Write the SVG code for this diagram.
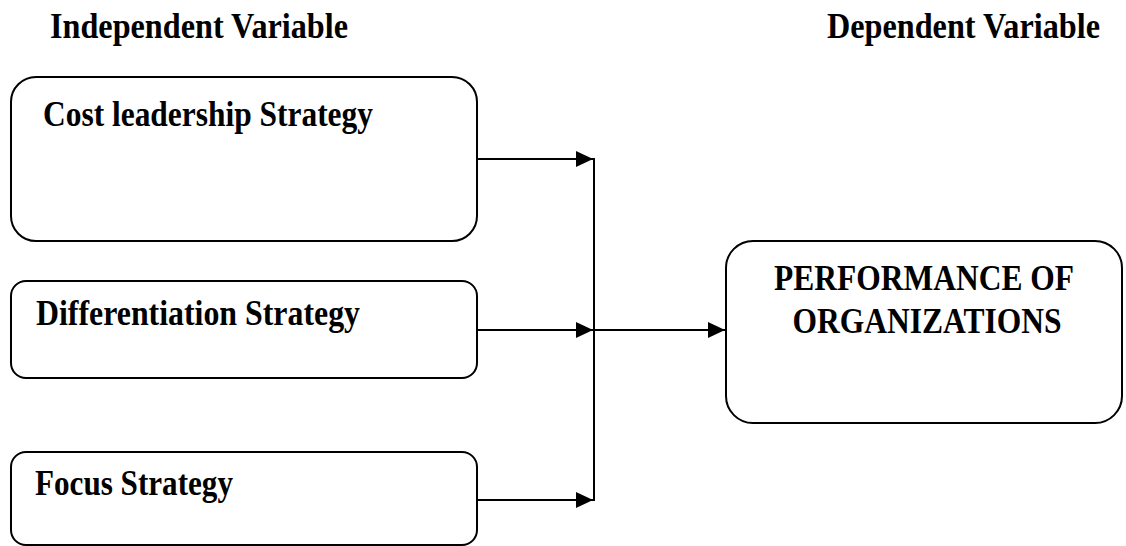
<svg xmlns="http://www.w3.org/2000/svg" width="1126" height="546" viewBox="0 0 1126 546">
<style>
.box{fill:#fff;stroke:#000;stroke-width:2}
.t{font-family:"Liberation Serif","Times New Roman",serif;font-weight:bold;font-size:35px;fill:#000}
.c{stroke:#000;stroke-width:2;fill:none}
</style>
<defs>
<marker id="ah" markerWidth="18" markerHeight="18" refX="17" refY="8" orient="auto" markerUnits="userSpaceOnUse">
<path d="M0,0 L17,8 L0,16 Z" fill="#000"/>
</marker>
</defs>
<rect width="1126" height="546" fill="#fff"/>
<g id="headers">
<text class="t" x="50" y="38" textLength="298" lengthAdjust="spacingAndGlyphs">Independent Variable</text>
<text class="t" x="827" y="38" textLength="273" lengthAdjust="spacingAndGlyphs">Dependent Variable</text>
</g>
<g id="cost">
<rect class="box" x="11" y="77" width="466" height="164" rx="25" ry="25"/>
<text class="t" x="43" y="126" textLength="330" lengthAdjust="spacingAndGlyphs">Cost leadership Strategy</text>
</g>
<g id="differentiation">
<rect class="box" x="11" y="281" width="466" height="97" rx="15" ry="15"/>
<text class="t" x="36" y="325" textLength="324" lengthAdjust="spacingAndGlyphs">Differentiation Strategy</text>
</g>
<g id="focus">
<rect class="box" x="11" y="452" width="466" height="93" rx="15" ry="15"/>
<text class="t" x="35" y="495" textLength="198" lengthAdjust="spacingAndGlyphs">Focus Strategy</text>
</g>
<g id="performance">
<rect class="box" x="726" y="241" width="396" height="182" rx="27" ry="27"/>
<text class="t" x="924" y="290" text-anchor="middle" textLength="300" lengthAdjust="spacingAndGlyphs">PERFORMANCE OF</text>
<text class="t" x="927" y="333" text-anchor="middle" textLength="269" lengthAdjust="spacingAndGlyphs">ORGANIZATIONS</text>
</g>
<g id="connectors">
<line class="c" x1="477" y1="159" x2="593" y2="159" marker-end="url(#ah)"/>
<line class="c" x1="477" y1="330" x2="593" y2="330" marker-end="url(#ah)"/>
<line class="c" x1="477" y1="500" x2="593" y2="500" marker-end="url(#ah)"/>
<line class="c" x1="594" y1="158" x2="594" y2="501"/>
<line class="c" x1="594" y1="330" x2="725" y2="330" marker-end="url(#ah)"/>
</g>
</svg>
